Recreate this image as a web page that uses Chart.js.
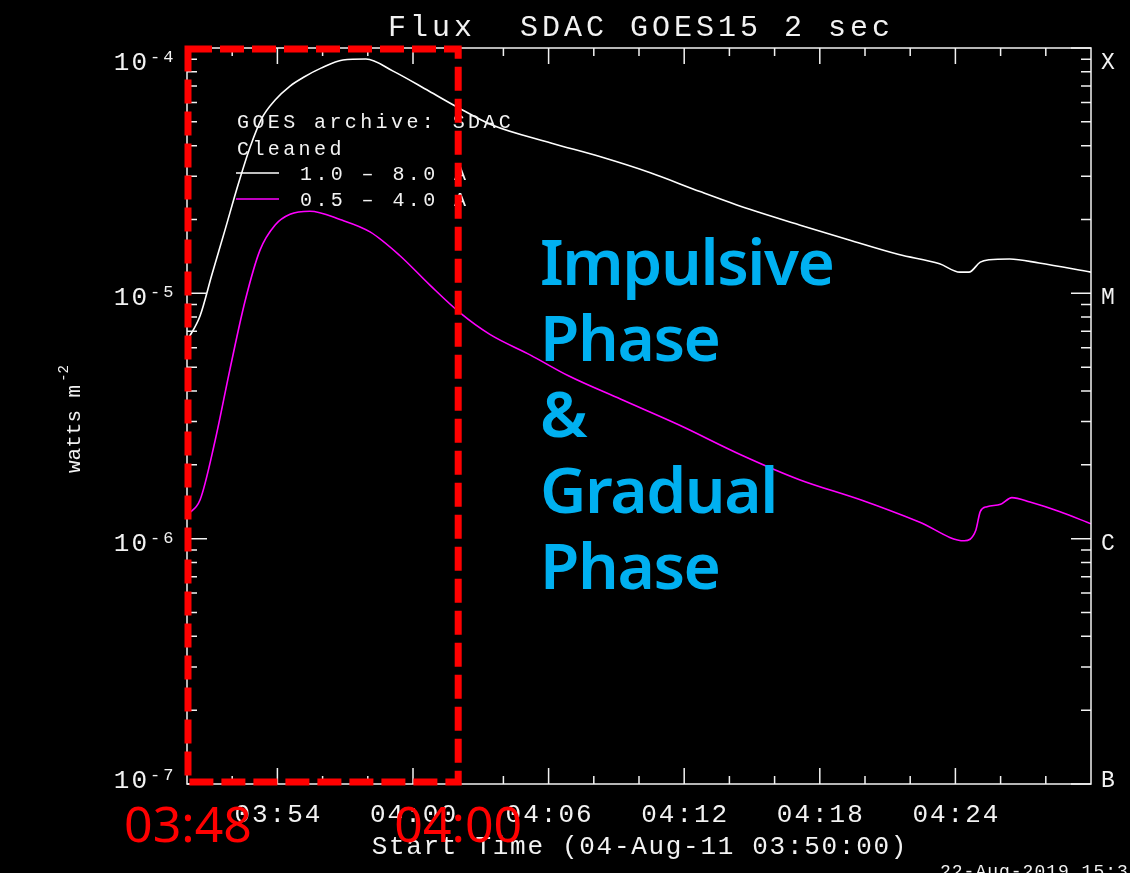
<!DOCTYPE html>
<html>
<head>
<meta charset="utf-8">
<script src="https://cdn.jsdelivr.net/npm/chart.js@4.4.1/dist/chart.umd.min.js"></script>
<style>
  html, body { margin: 0; padding: 0; background: #000; }
  canvas { display: block; }
</style>
</head>
<body>
<canvas id="goes" width="1130" height="873"></canvas>
<script>
// time axis = minutes after 03:50:00 UT (04-Aug-2011)
const longTimes = [0, 0.58, 1.1, 1.68, 2.26, 2.79, 3.32, 3.9, 4.56, 5.18, 5.93, 6.9, 7.92, 9.12, 10.7, 11.95, 13.5, 16.1, 18.3, 20.5, 22.7, 24.9, 27.1, 29.3, 31.5, 33.3, 34.2, 34.6, 35.1, 35.5, 36.4, 37.7, 40];
const longFlux = [6.4e-6, 8.1e-6, 1.19e-5, 1.81e-5, 2.77e-5, 3.94e-5, 5.19e-5, 6.14e-5, 7.0e-5, 7.62e-5, 8.28e-5, 8.93e-5, 9.02e-5, 8.05e-5, 6.68e-5, 5.75e-5, 4.85e-5, 4.1e-5, 3.6e-5, 3.1e-5, 2.6e-5, 2.2e-5, 1.9e-5, 1.65e-5, 1.44e-5, 1.32e-5, 1.22e-5, 1.22e-5, 1.34e-5, 1.37e-5, 1.38e-5, 1.33e-5, 1.22e-5];

const shortTimes = [0, 0.58, 1.24, 1.9, 2.57, 3.23, 3.9, 4.56, 5.44, 6.77, 8.1, 9.4, 10.75, 12.1, 13.4, 15.2, 16.9, 19.2, 21.8, 24.5, 27.1, 29.8, 32.4, 34.4, 34.9, 35.1, 35.4, 36.0, 36.5, 37.3, 38.6, 40];
const shortFlux = [1.25e-6, 1.44e-6, 2.5e-6, 4.9e-6, 9.3e-6, 1.5e-5, 1.9e-5, 2.1e-5, 2.16e-5, 2.0e-5, 1.78e-5, 1.43e-5, 1.08e-5, 8.3e-6, 6.8e-6, 5.6e-6, 4.6e-6, 3.7e-6, 2.9e-6, 2.2e-6, 1.74e-6, 1.44e-6, 1.17e-6, 0.98e-6, 1.08e-6, 1.29e-6, 1.35e-6, 1.38e-6, 1.47e-6, 1.41e-6, 1.29e-6, 1.15e-6];

const seriesNames = ['1.0 \u2013 8.0 A', '0.5 \u2013 4.0 A'];
const legendHeader = ['GOES archive: SDAC', 'Cleaned'];

const majorTicks = [4, 10, 16, 22, 28, 34];
const majorLabels = ['03:54', '04:00', '04:06', '04:12', '04:18', '04:24'];
const decades = [1e-7, 1e-6, 1e-5, 1e-4];
const decadeExps = ['-7', '-6', '-5', '-4'];
const goesClass = ['B', 'C', 'M', 'X'];

// overlay marking 03:48 - 04:00
const phaseBox = [0, 12];
const phaseBoxLabels = ['03:48', '04:00'];
const phaseText = ['Impulsive', 'Phase', '&', 'Gradual', 'Phase'];

const MONO = '"Liberation Mono", "DejaVu Sans Mono", monospace';

function put(ctx, s, x, y, size, sp, align) {
  ctx.font = size + 'px ' + MONO;
  ctx.letterSpacing = sp + 'px';
  const w = ctx.measureText(s).width - sp;
  let x0 = x;
  if (align === 'center') x0 = x - w / 2;
  else if (align === 'right') x0 = x - w;
  ctx.textAlign = 'left';
  ctx.fillText(s, x0, y);
  return w;
}

const idlFrame = {
  id: 'idlFrame',
  afterDraw(chart) {
    const ctx = chart.ctx;
    const xs = chart.scales.x, ys = chart.scales.y;
    const a = chart.chartArea;
    ctx.save();
    ctx.strokeStyle = '#f2f2f2';
    ctx.fillStyle = '#f2f2f2';
    ctx.lineWidth = 1.5;
    ctx.textBaseline = 'alphabetic';
    ctx.strokeRect(a.left, a.top, a.right - a.left, a.bottom - a.top);

    // time ticks, inward, top and bottom
    ctx.beginPath();
    for (let m = 2; m < xs.max; m += 2) {
      const px = xs.getPixelForValue(m);
      const len = majorTicks.includes(m) ? 16 : 8;
      ctx.moveTo(px, a.bottom); ctx.lineTo(px, a.bottom - len);
      ctx.moveTo(px, a.top); ctx.lineTo(px, a.top + len);
    }
    // log ticks, left and right
    decades.forEach(d => {
      for (let k = 1; k <= 9; k++) {
        const v = k * d;
        if (v > ys.max * 1.0001) break;
        const py = ys.getPixelForValue(v);
        const len = k === 1 ? 20 : 10;
        ctx.moveTo(a.left, py); ctx.lineTo(a.left + len, py);
        ctx.moveTo(a.right, py); ctx.lineTo(a.right - len, py);
      }
    });
    ctx.stroke();

    // time labels
    majorTicks.forEach((m, i) => {
      put(ctx, majorLabels[i], xs.getPixelForValue(m), 822, 26, 2, 'center');
    });

    // decade labels and GOES classes
    decades.forEach((d, i) => {
      const py = ys.getPixelForValue(d);
      const mid = Math.min(Math.max(py + 3, a.top + 13), a.bottom - 5);
      put(ctx, decadeExps[i], 150, mid + 1, 17, 3, 'left');
      put(ctx, '10', 147, mid + 9, 26, 2, 'right');
      put(ctx, goesClass[i], a.right + 10, mid + 8, 23, 0, 'left');
    });

    // title and footer
    const cx = (a.left + a.right) / 2;
    put(ctx, 'Flux  SDAC GOES15 2 sec', cx, 36, 30, 4, 'center');
    put(ctx, 'Start Time (04-Aug-11 03:50:00)', cx, 854, 26, 1.7, 'center');
    put(ctx, '22-Aug-2019 15:3', 940, 877, 18, 1, 'left');

    // y title
    ctx.save();
    ctx.translate(80, 473);
    ctx.rotate(-Math.PI / 2);
    const tw = put(ctx, 'watts m', 0, 0, 21, 0, 'left');
    put(ctx, '-2', tw + 3, -12, 14, 0, 'left');
    ctx.restore();

    // legend
    put(ctx, legendHeader[0], 237, 128, 20, 3.4, 'left');
    put(ctx, legendHeader[1], 237, 155, 20, 3.4, 'left');
    chart.data.datasets.forEach((ds, i) => {
      const ly = 173 + i * 26;
      ctx.strokeStyle = ds.borderColor;
      ctx.beginPath(); ctx.moveTo(236, ly); ctx.lineTo(279, ly); ctx.stroke();
      put(ctx, ds.label, 300, ly + 7, 20, 3.4, 'left');
    });

    // red dashed phase box
    const bx0 = xs.getPixelForValue(phaseBox[0]) + 1;
    const bx1 = xs.getPixelForValue(phaseBox[1]);
    const by0 = ys.getPixelForValue(ys.max) + 1;
    const by1 = ys.getPixelForValue(ys.min) - 2;
    ctx.strokeStyle = '#ff0000';
    ctx.lineWidth = 7;
    ctx.setLineDash([24, 8]);
    ctx.strokeRect(bx0, by0, bx1 - bx0, by1 - by0);
    ctx.setLineDash([]);
    ctx.fillStyle = '#ff0000';
    ctx.letterSpacing = '0px';
    ctx.font = '50px "Noto Sans"';
    ctx.textAlign = 'center';
    ctx.fillText(phaseBoxLabels[0], bx0, 842);
    ctx.fillText(phaseBoxLabels[1], bx1, 842);

    // phase annotation
    ctx.fillStyle = '#00b0f0';
    ctx.font = '600 64px "Noto Sans"';
    ctx.letterSpacing = '-1.4px';
    ctx.textAlign = 'left';
    phaseText.forEach((t, i) => ctx.fillText(t, 540, 285 + i * 76));
    ctx.restore();
  }
};

new Chart(document.getElementById('goes'), {
  type: 'line',
  data: {
    datasets: [
      {
        label: seriesNames[0],
        data: longTimes.map((t, i) => ({ x: t, y: longFlux[i] })),
        borderColor: '#ffffff',
        borderWidth: 1.6,
        pointRadius: 0,
        cubicInterpolationMode: 'monotone'
      },
      {
        label: seriesNames[1],
        data: shortTimes.map((t, i) => ({ x: t, y: shortFlux[i] })),
        borderColor: '#ff00ff',
        borderWidth: 1.6,
        pointRadius: 0,
        cubicInterpolationMode: 'monotone'
      }
    ]
  },
  options: {
    responsive: false,
    animation: false,
    layout: { padding: { left: 187, right: 39, top: 48, bottom: 89 } },
    plugins: { legend: { display: false }, tooltip: { enabled: false } },
    scales: {
      x: { type: 'linear', min: 0, max: 40, display: false },
      y: { type: 'logarithmic', min: 1e-7, max: 1e-4, display: false }
    }
  },
  plugins: [idlFrame]
});
</script>
</body>
</html>
